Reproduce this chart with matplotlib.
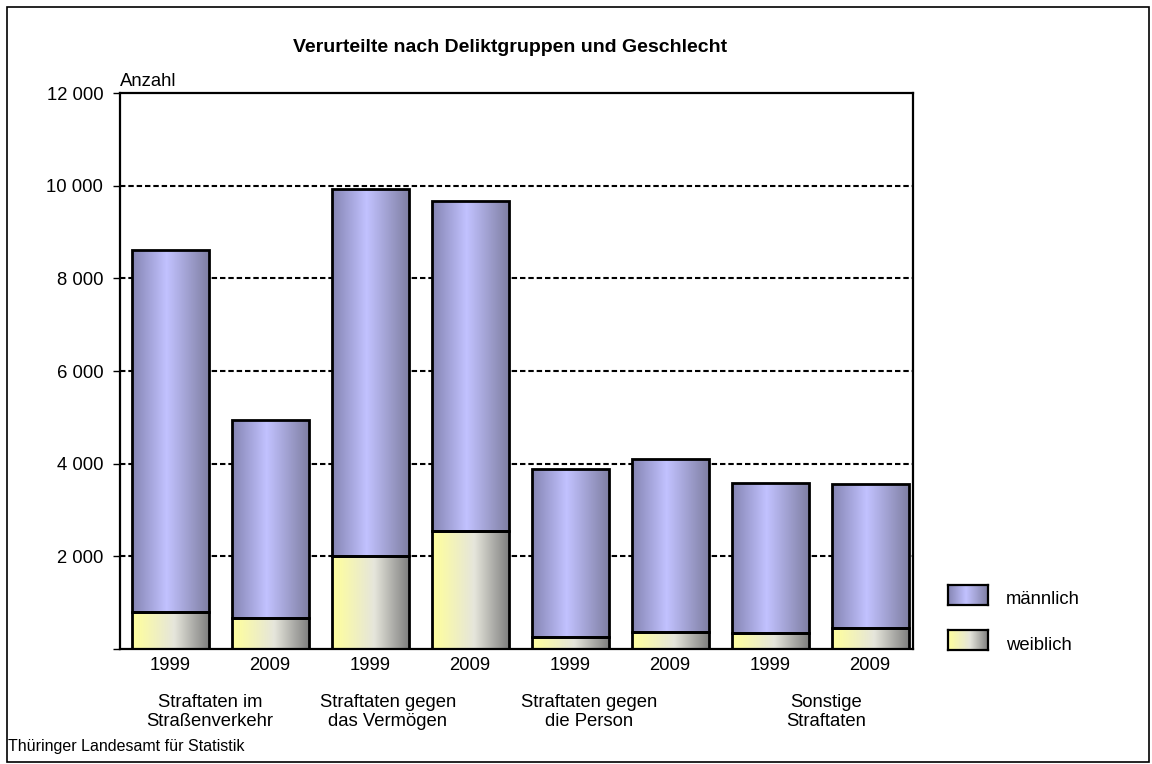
import numpy as np
import matplotlib
matplotlib.use("Agg")
import matplotlib.pyplot as plt
from matplotlib.patches import Rectangle
from matplotlib.ticker import FuncFormatter

plt.rcParams['font.family'] = ['Liberation Sans', 'DejaVu Sans']

# values
years = ["1999", "2009", "1999", "2009", "1999", "2009", "1999", "2009"]
groups = ["Straftaten im\nStraßenverkehr", "Straftaten gegen\ndas Vermögen",
          "Straftaten gegen\ndie Person", "Sonstige\nStraftaten"]
weiblich = [805, 660, 2010, 2555, 250, 370, 335, 445]
maennlich = [7815, 4280, 7920, 7115, 3635, 3730, 3245, 3115]

W, H = 1152, 764
FS = 13.3

def gradient(stops, colors, n=256):
    t = np.linspace(0, 1, n)
    cols = np.array(colors)
    rgb = np.stack([np.interp(t, stops, cols[:, k]) for k in range(3)], axis=-1)
    return rgb[np.newaxis, :, :]

grad_m = gradient([0, 0.45, 1], [(0.52, 0.52, 0.70), (0.76, 0.76, 1.0), (0.50, 0.50, 0.64)])
grad_w = gradient([0, 0.12, 0.55, 1], [(1.0, 1.0, 0.63), (0.98, 0.98, 0.66), (0.90, 0.90, 0.86), (0.50, 0.50, 0.50)])

fig = plt.figure(figsize=(W / 100, H / 100), dpi=100)
ax = fig.add_axes([120 / W, (H - 649) / H, (913 - 120) / W, (649 - 93) / H])

x = np.arange(len(years))
bw = 0.77

for i in range(len(x)):
    for bottom, val, grad in [(0, weiblich[i], grad_w), (weiblich[i], maennlich[i], grad_m)]:
        bar = ax.bar(x[i], val, bw, bottom=bottom, facecolor='none',
                     edgecolor='black', linewidth=2, zorder=3)[0]
        im = ax.imshow(grad, extent=[x[i] - bw / 2, x[i] + bw / 2, bottom, bottom + val],
                       aspect='auto', zorder=2, interpolation='bilinear')
        im.set_clip_path(bar)

for yv in range(2000, 12000, 2000):
    ax.axhline(yv, color='black', lw=1.5, dashes=(2.6, 1.4), zorder=1)

ax.set_xlim(-0.5, 7.43)
ax.set_ylim(0, 12000)
ax.set_yticks(range(0, 12001, 2000))
ax.yaxis.set_major_formatter(FuncFormatter(lambda v, p: "" if v == 0 else f"{int(v):,}".replace(",", " ")))
ax.tick_params(axis='y', length=5, width=1, labelsize=FS, pad=7)
ax.set_xticks(x)
ax.set_xticklabels(years, fontsize=FS)
ax.tick_params(axis='x', length=0, pad=6)
for s in ax.spines.values():
    s.set_linewidth(1.6)
    s.set_color('black')

ax.text(0.0, 1.005, "Anzahl", transform=ax.transAxes, fontsize=FS, va='bottom', ha='left')

# group labels below the year labels
group_px = [210, 388, 589, 826]
for g, px in zip(groups, group_px):
    fig.text(px / W, 1 - 712 / H, g, ha='center', va='center', fontsize=FS, linespacing=1.2)

fig.text(510 / W, 1 - 47 / H, "Verurteilte nach Deliktgruppen und Geschlecht",
         ha='center', va='center', fontsize=14, fontweight='bold')
fig.text(8 / W, 1 - 746 / H, "Thüringer Landesamt für Statistik", ha='left', va='center', fontsize=11.5)

# legend drawn by hand with gradient swatches
for label, grad, ymid, ytxt in [("männlich", grad_m, 595, 600), ("weiblich", grad_w, 640, 645)]:
    lax = fig.add_axes([948 / W, 1 - (ymid + 10) / H, 40 / W, 20 / H])
    lax.imshow(grad, aspect='auto', extent=[0, 1, 0, 1], interpolation='bilinear')
    lax.set_xticks([])
    lax.set_yticks([])
    for s in lax.spines.values():
        s.set_linewidth(1.6)
    fig.text(1006 / W, 1 - ytxt / H, label, ha='left', va='center', fontsize=FS)

fig.patches.append(Rectangle((7 / W, 2 / H), (1149 - 7) / W, (762 - 7) / H,
                             transform=fig.transFigure, fill=False, edgecolor='black', lw=1.2))

fig.savefig("out.png", dpi=100)
